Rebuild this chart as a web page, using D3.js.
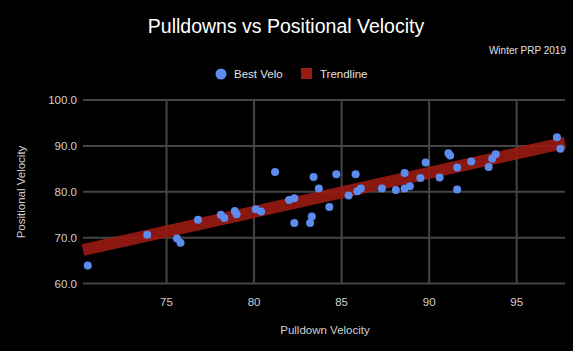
<!DOCTYPE html>
<html>
<head>
<meta charset="utf-8">
<script src="https://cdn.jsdelivr.net/npm/d3@7"></script>
<style>
  body { margin: 0; background: #000; }
  text { font-family: "Liberation Sans", Arial, sans-serif; }
</style>
</head>
<body>
<script>
// pulldown velo vs positional velo
let pulldown = [70.5, 73.9, 75.6, 75.8, 76.8, 78.1, 78.3, 78.9, 79.0, 80.1, 80.4, 81.2, 82.0, 82.3,
  82.3, 83.2, 83.3, 83.4, 83.7, 84.3, 84.7, 85.4, 85.8, 85.9, 86.1, 87.3, 88.1, 88.6, 88.6, 88.9,
  89.5, 89.8, 90.6, 91.1, 91.2, 91.6, 91.6, 92.4, 93.4, 93.6, 93.8, 97.3, 97.5]
let positional = [63.9, 70.6, 69.8, 68.9, 73.9, 75.0, 74.3, 75.8, 75.1, 76.2, 75.7, 84.3, 78.2, 78.6,
  73.2, 73.2, 74.6, 83.2, 80.7, 76.7, 83.8, 79.2, 83.8, 80.1, 80.7, 80.7, 80.4, 84.1, 80.7, 81.2,
  83.0, 86.4, 83.1, 88.4, 87.9, 85.3, 80.5, 86.6, 85.4, 87.2, 88.2, 91.9, 89.4]
let xTicks = [75, 80, 85, 90, 95]
let yTicks = [60, 70, 80, 90, 100]
// trendline, at the two ends of the x range
let trendX = [70.23, 97.76]
let trendY = [67.3, 90.7]

let W = 573, H = 351
let pLeft = 83, pRight = 565, pTop = 100, pBottom = 283.5

let svg = d3.select('body').append('svg')
  .attr('width', W).attr('height', H)
svg.append('rect').attr('width', W).attr('height', H).attr('fill', '#000')

let x = d3.scaleLinear().domain(trendX).range([pLeft, pRight])
let y = d3.scaleLinear().domain([60, 100]).range([pBottom, pTop])

// grid
svg.append('g').selectAll('line').data(yTicks).enter().append('line')
  .attr('x1', pLeft).attr('x2', pRight)
  .attr('y1', d => y(d)).attr('y2', d => y(d))
  .attr('stroke', '#444').attr('stroke-width', 2)
svg.append('g').selectAll('line').data(xTicks).enter().append('line')
  .attr('x1', d => x(d)).attr('x2', d => x(d))
  .attr('y1', pTop).attr('y2', pBottom)
  .attr('stroke', '#444').attr('stroke-width', 2)

// tick labels
svg.append('g').selectAll('text').data(yTicks).enter().append('text')
  .attr('x', 77).attr('y', d => y(d)).attr('dy', '0.35em')
  .attr('text-anchor', 'end').attr('fill', '#d0d0d0').attr('font-size', 11.5)
  .text(d => d3.format('.1f')(d))
svg.append('g').selectAll('text').data(xTicks).enter().append('text')
  .attr('x', d => x(d)).attr('y', 306)
  .attr('text-anchor', 'middle').attr('fill', '#d0d0d0').attr('font-size', 11.5)
  .text(d => d)

// trendline
let line = d3.line().x(d => x(d[0])).y(d => y(d[1]))
svg.append('path')
  .attr('d', line(trendX.map((v, i) => [v, trendY[i]])))
  .attr('fill', 'none')
  .attr('stroke', '#9a1b12').attr('stroke-width', 12).attr('opacity', 0.9)

// points
svg.append('g').selectAll('circle').data(pulldown).enter().append('circle')
  .attr('cx', d => x(d)).attr('cy', (d, i) => y(positional[i]))
  .attr('r', 4).attr('fill', '#5b8cee')

// titles
svg.append('text').attr('x', 286).attr('y', 33).attr('text-anchor', 'middle')
  .attr('fill', '#fff').attr('font-size', 19.5).text('Pulldowns vs Positional Velocity')
svg.append('text').attr('x', 566).attr('y', 54).attr('text-anchor', 'end')
  .attr('fill', '#e0e0e0').attr('font-size', 10).text('Winter PRP 2019')
svg.append('text').attr('x', 325).attr('y', 334).attr('text-anchor', 'middle')
  .attr('fill', '#d0d0d0').attr('font-size', 11.5).text('Pulldown Velocity')
svg.append('text').attr('transform', 'translate(25,192) rotate(-90)').attr('text-anchor', 'middle')
  .attr('fill', '#d0d0d0').attr('font-size', 11.5).text('Positional Velocity')

// legend
svg.append('circle').attr('cx', 221).attr('cy', 74).attr('r', 5.5).attr('fill', '#5b8cee')
svg.append('text').attr('x', 234).attr('y', 78).attr('fill', '#e0e0e0').attr('font-size', 11.5).text('Best Velo')
svg.append('rect').attr('x', 301).attr('y', 68).attr('width', 11).attr('height', 11).attr('fill', '#9a1b12')
svg.append('text').attr('x', 320).attr('y', 78).attr('fill', '#e0e0e0').attr('font-size', 11.5).text('Trendline')
</script>
</body>
</html>
